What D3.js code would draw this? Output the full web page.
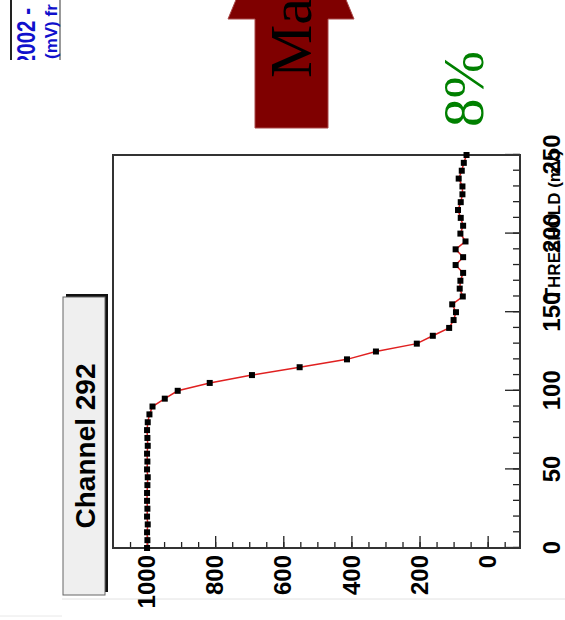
<!DOCTYPE html>
<html>
<head>
<meta charset="utf-8">
<script src="https://cdn.jsdelivr.net/npm/d3@7"></script>
<style>
  body { margin: 0; background: #fff; }
  svg { display: block; }
  .axis text { font-family: "Liberation Sans", Arial, sans-serif; font-weight: bold; fill: #000; }
</style>
</head>
<body>
<svg id="chart"></svg>
<script>
const width = 565;
const height = 620;

// threshold (mV) and counts
const thresholds = [0, 5, 10, 15, 20, 25, 30, 35, 40, 45, 50, 55, 60, 65, 70, 75, 80, 85, 90, 95,
  100, 105, 110, 115, 120, 125, 130, 135, 140, 145, 150, 155, 160, 165, 170, 175, 180, 185, 190, 195,
  200, 205, 210, 215, 220, 225, 230, 235, 240, 245, 250];
const counts = [1000, 999, 1000, 998, 1000, 999, 1000, 1000, 999, 998, 1000, 999, 1000, 998, 999, 1000,
  998, 993, 984, 948, 910, 816, 692, 552, 413, 328, 208, 161, 113, 100, 93, 104, 73, 82, 80, 72,
  94, 72, 94, 65, 80, 72, 79, 87, 79, 74, 74, 85, 76, 70, 62];

const xTicks = [0, 50, 100, 150, 200, 250];
const yTicks = [0, 200, 400, 600, 800, 1000];
const channelLabel = 'Channel 292';
const axisTitleFirst = 'T';
const axisTitleRest = 'HRESHOLD (mV)';

const svg = d3.select('#chart')
  .attr('width', width)
  .attr('height', height);

// faint page edges of the scan
svg.append('line').attr('x1', 62).attr('x2', width).attr('y1', 599).attr('y2', 599)
  .attr('stroke', '#e2e2e2').attr('stroke-width', 1);
svg.append('line').attr('x1', 0).attr('x2', 62).attr('y1', 616).attr('y2', 616)
  .attr('stroke', '#e8e8e8').attr('stroke-width', 1);

// top-left blue box, clipped
const clip = svg.append('defs').append('clipPath').attr('id', 'boxclip');
clip.append('rect').attr('x', 0).attr('y', 0).attr('width', 62).attr('height', 60);
const blue = svg.append('g').attr('clip-path', 'url(#boxclip)');
blue.append('line').attr('x1', 11).attr('x2', 11).attr('y1', 0).attr('y2', 60)
  .attr('stroke', '#222').attr('stroke-width', 2);
blue.append('line').attr('x1', 60).attr('x2', 60).attr('y1', 0).attr('y2', 60)
  .attr('stroke', '#777').attr('stroke-width', 1.5);
blue.append('text')
  .attr('transform', 'translate(35,8) rotate(-90) scale(0.82,1)')
  .attr('text-anchor', 'end')
  .style('font-family', '"Liberation Sans", Arial, sans-serif')
  .style('font-weight', 'bold').style('font-size', '25px')
  .attr('fill', '#1010cc')
  .text('2002 -');
blue.append('text')
  .attr('transform', 'translate(57,59) rotate(-90)')
  .style('font-family', '"Liberation Sans", Arial, sans-serif')
  .style('font-weight', 'bold').style('font-size', '17px')
  .attr('fill', '#1010cc')
  .text('(mV) fr');

// big dark red arrow
const arrowPts = [[255, 128], [328, 128], [328, 19], [354, 19], [291, -133], [228, 19], [255, 19]];
svg.append('path')
  .attr('d', d3.line()(arrowPts) + 'Z')
  .attr('fill', '#7f0000')
  .attr('stroke', '#a84848')
  .attr('stroke-width', 1);
svg.append('text')
  .attr('transform', 'translate(311,78) rotate(-90)')
  .style('font-family', '"Liberation Serif", "Times New Roman", serif')
  .style('font-size', '60px')
  .attr('fill', '#000')
  .text('Ma');

svg.append('text')
  .attr('transform', 'translate(483,127) rotate(-90)')
  .style('font-family', '"Liberation Serif", "Times New Roman", serif')
  .style('font-size', '57px')
  .attr('fill', '#008000')
  .text('8%');

// channel label pave with shadow
svg.append('rect').attr('x', 66).attr('y', 294).attr('width', 42).attr('height', 298)
  .attr('fill', '#111');
svg.append('rect').attr('x', 63).attr('y', 297).attr('width', 42).attr('height', 298)
  .attr('fill', '#efefef').attr('stroke', '#666').attr('stroke-width', 1);
svg.append('text')
  .attr('transform', 'translate(95,446) rotate(-90)')
  .attr('text-anchor', 'middle')
  .style('font-family', '"Liberation Sans", Arial, sans-serif')
  .style('font-weight', 'bold').style('font-size', '28px')
  .attr('fill', '#000')
  .text(channelLabel);

// plot drawn in its own orientation, then turned a quarter left
const plotW = 393;
const plotH = 407;
const g = svg.append('g').attr('transform', 'translate(113,548) rotate(-90)');

const x = d3.scaleLinear().domain([0, 250]).range([0, plotW]);
const y = d3.scaleLinear().domain([-95, 1100]).range([plotH, 0]);

// minor ticks
g.append('g').attr('class', 'axis minor')
  .attr('transform', `translate(0,${plotH})`)
  .call(d3.axisBottom(x).tickValues(d3.range(0, 251, 10)).tickSizeInner(-7).tickSizeOuter(0).tickFormat(''));
g.append('g').attr('class', 'axis minor')
  .call(d3.axisLeft(y).tickValues(d3.range(-50, 1100, 50)).tickSizeInner(-6).tickSizeOuter(0).tickFormat(''));

// major ticks with labels
g.append('g').attr('class', 'axis')
  .attr('transform', `translate(0,${plotH})`)
  .call(d3.axisBottom(x).tickValues(xTicks).tickSizeInner(-15).tickSizeOuter(0)
    .tickPadding(23).tickFormat(d3.format('d')));
g.append('g').attr('class', 'axis')
  .call(d3.axisLeft(y).tickValues(yTicks).tickSizeInner(-12).tickSizeOuter(0)
    .tickPadding(7).tickFormat(d3.format('d')));

g.selectAll('.axis text').style('font-size', '24px');
g.selectAll('.axis .tick line').attr('stroke', '#222').attr('stroke-width', 1.3);
g.selectAll('.axis .domain').remove();

// frame
g.append('rect')
  .attr('x', 0).attr('y', 0).attr('width', plotW).attr('height', plotH)
  .attr('fill', 'none').attr('stroke', '#333').attr('stroke-width', 2);

// axis title
const title = g.append('text')
  .attr('x', plotW + 5).attr('y', plotH + 40)
  .attr('text-anchor', 'end')
  .style('font-family', '"Liberation Sans", Arial, sans-serif')
  .style('font-weight', 'bold')
  .attr('fill', '#000');
title.append('tspan').style('font-size', '22px').text(axisTitleFirst);
title.append('tspan').style('font-size', '17px').text(axisTitleRest);

// curve and markers
const pts = thresholds.map((t, i) => ({t, c: counts[i]}));
g.append('path')
  .datum(pts)
  .attr('d', d3.line().x((d) => x(d.t)).y((d) => y(d.c)))
  .attr('fill', 'none')
  .attr('stroke', '#e02020')
  .attr('stroke-width', 1.5);

g.selectAll('.pt').data(pts).join('rect')
  .attr('class', 'pt')
  .attr('x', (d) => x(d.t) - 3)
  .attr('y', (d) => y(d.c) - 3)
  .attr('width', 6)
  .attr('height', 6)
  .attr('fill', '#000');
</script>
</body>
</html>
